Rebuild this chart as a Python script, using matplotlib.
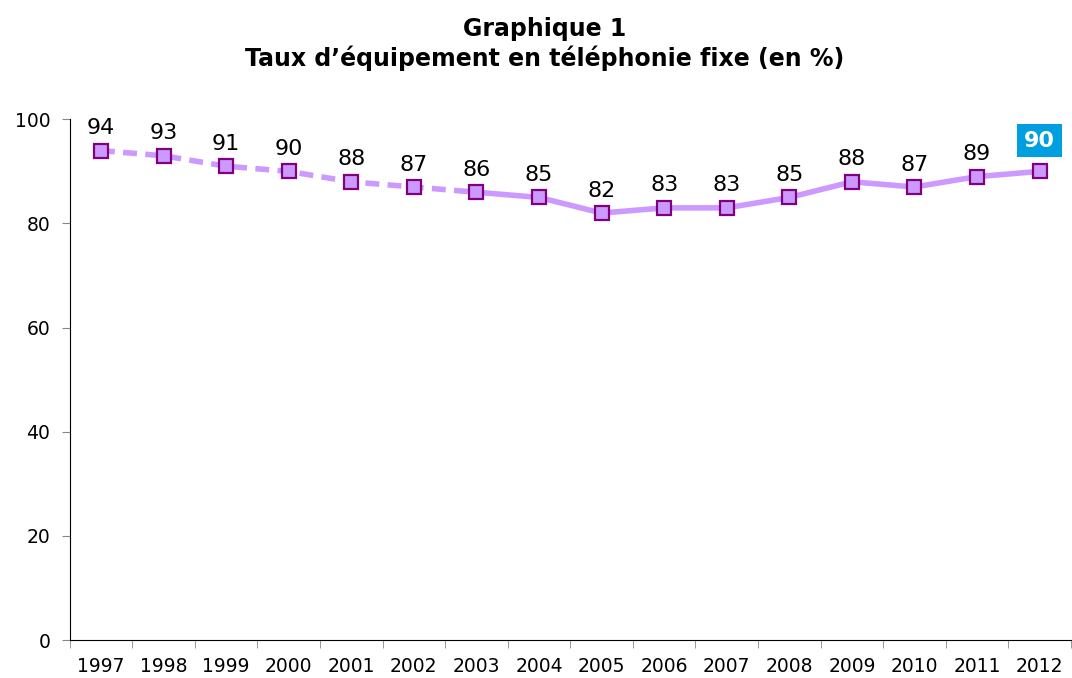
import matplotlib
matplotlib.use("Agg")
import matplotlib.pyplot as plt
import numpy as np

years = ["1997", "1998", "1999", "2000", "2001", "2002", "2003", "2004",
         "2005", "2006", "2007", "2008", "2009", "2010", "2011", "2012"]
taux = [94, 93, 91, 90, 88, 87, 86, 85, 82, 83, 83, 85, 88, 87, 89, 90]
n_dashed = 7  # 1997-2003 en pointillés

line_color = "#cc99ff"
edge_color = "#800080"

plt.rcParams['font.family'] = ['DejaVu Sans']

fig = plt.figure(figsize=(10.72, 6.78), dpi=100)
ax = fig.add_axes([0.065, 0.056, 0.934, 0.768])

x = np.arange(len(years))
ax.plot(x[:n_dashed], taux[:n_dashed], color=line_color, lw=4, ls=(0, (2.5, 1.5)),
        solid_capstyle="butt", zorder=2)
ax.plot(x[n_dashed - 1:], taux[n_dashed - 1:], color=line_color, lw=4, zorder=2)
ax.plot(x, taux, ls="none", marker="s", ms=10, mfc=line_color, mec=edge_color,
        mew=1.6, zorder=3)

for i, v in enumerate(taux):
    if i == len(taux) - 1:
        ax.annotate(str(v), (x[i], v), xytext=(0, 15), textcoords="offset points",
                    ha="center", va="bottom", fontsize=16, fontweight="bold",
                    color="white",
                    bbox=dict(boxstyle="square,pad=0.3", fc="#009fdf", ec="none"))
    else:
        ax.annotate(str(v), (x[i], v), xytext=(0, 9), textcoords="offset points",
                    ha="center", va="bottom", fontsize=16, color="black")

ax.set_xlim(-0.5, len(years) - 0.5)
ax.set_ylim(0, 100)
ax.set_yticks([0, 20, 40, 60, 80, 100])
ax.set_xticks(x)
ax.set_xticklabels(years)
ax.set_xticks(np.arange(-0.5, len(years)), minor=True)
ax.tick_params(axis="x", which="major", length=0, labelsize=13.5, pad=12)
ax.tick_params(axis="x", which="minor", length=6, color="#888888")
ax.tick_params(axis="y", length=6, color="#888888", labelsize=13.5, pad=8)

ax.spines["top"].set_visible(False)
ax.spines["right"].set_visible(False)
ax.spines["left"].set_color("black")
ax.spines["bottom"].set_color("black")

fig.text(0.508, 0.935, "Graphique 1\nTaux d’équipement en téléphonie fixe (en %)",
         ha="center", va="center", fontsize=17, fontweight="bold",
         linespacing=1.2)

fig.savefig("out.png", dpi=100)
